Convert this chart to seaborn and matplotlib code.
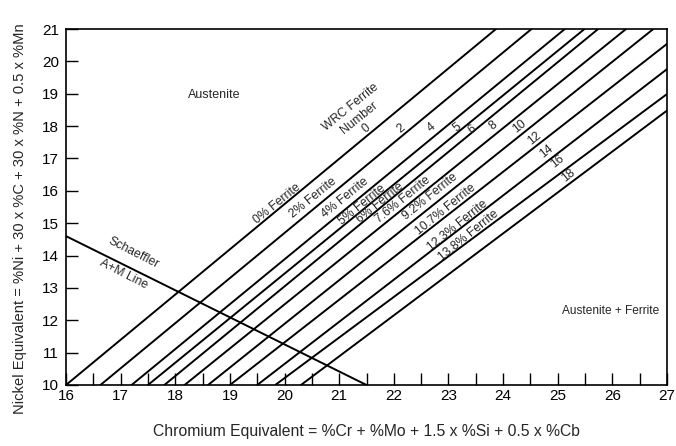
import matplotlib
matplotlib.use("Agg")
import matplotlib.pyplot as plt
import seaborn as sns
import pandas as pd
from matplotlib.ticker import MultipleLocator

# ---- data ----
ferrite_numbers = ["0", "2", "4", "5", "6", "8", "10", "12", "14", "16", "18"]
ferrite_pct = ["0%", "2%", "4%", "5%", "6%", "7.6%", "9.2%", "10.7%", "12.3%", "13.8%"]
cr_start = [16.0, 16.63, 17.2, 17.5, 17.8, 18.17, 18.6, 19.0, 19.5, 19.83, 20.3]
ni_start = [10, 10, 10, 10, 10, 10, 10, 10, 10, 10, 10]
cr_end = [23.87, 24.52, 25.13, 25.49, 25.74, 26.25, 26.75, 27.0, 27.0, 27.0, 27.0]
ni_end = [21, 21, 21, 21, 21, 21, 21, 20.54, 19.76, 18.99, 18.48]

schaeffler_cr = [16.0, 21.5]
schaeffler_ni = [14.6, 10.0]

# label positions (data coords)
pct_label_cr = [19.86, 20.52, 21.11, 21.41, 21.75, 22.17, 22.66, 22.94, 23.17, 23.36]
pct_label_ni = [15.61, 15.78, 15.78, 15.56, 15.62, 15.72, 15.81, 15.41, 14.94, 14.63]
num_label_cr = [21.49, 22.13, 22.69, 23.16, 23.44, 23.82, 24.31, 24.58, 24.80, 25.00, 25.19]
num_label_ni = [17.93, 17.93, 17.96, 17.97, 17.90, 18.03, 17.98, 17.63, 17.21, 16.90, 16.49]

x_ticks = list(range(16, 28))
y_ticks = list(range(10, 22))

# ---- build table ----
rows = []
for i, fn in enumerate(ferrite_numbers):
    rows.append({"Cr": cr_start[i], "Ni": ni_start[i], "line": "FN" + fn})
    rows.append({"Cr": cr_end[i], "Ni": ni_end[i], "line": "FN" + fn})
for c, n in zip(schaeffler_cr, schaeffler_ni):
    rows.append({"Cr": c, "Ni": n, "line": "Schaeffler"})
df = pd.DataFrame(rows)

sns.set_style("ticks")
plt.rcParams["font.family"] = ["Liberation Sans", "DejaVu Sans"]

fig = plt.figure(figsize=(6.76, 4.46), dpi=100)
ax = fig.add_axes([66 / 676, 1 - 385 / 446, (667 - 66) / 676, (385 - 29) / 446])

sns.lineplot(data=df, x="Cr", y="Ni", units="line", estimator=None,
             color="black", linewidth=1.4, sort=False, ax=ax, legend=False)

ax.set_xlim(16, 27)
ax.set_ylim(10, 21)
ax.set_xticks(x_ticks)
ax.set_yticks(y_ticks)
ax.xaxis.set_minor_locator(MultipleLocator(0.5))
ax.tick_params(axis="both", which="both", direction="in", length=8.5, width=1.0,
               color="black", labelsize=11, labelcolor="black")
ax.tick_params(axis="x", which="major", pad=3)
ax.tick_params(axis="y", which="major", pad=5)
for s in ax.spines.values():
    s.set_linewidth(1.2)
    s.set_color("black")

ax.set_xlabel("Chromium Equivalent = %Cr + %Mo + 1.5 x %Si + 0.5 x %Cb",
              fontsize=11.3, labelpad=15)
ax.set_ylabel("Nickel Equivalent = %Ni + 30 x %C + 30 x %N + 0.5 x %Mn",
              fontsize=10.6, labelpad=11)
ax.yaxis.label.set_y(0.468)

rot = 39
fs = 8.8
for lab, cx, cy in zip(ferrite_pct, pct_label_cr, pct_label_ni):
    ax.text(cx, cy, lab + " Ferrite", rotation=rot, rotation_mode="anchor",
            ha="center", va="center", fontsize=fs)
for lab, cx, cy in zip(ferrite_numbers, num_label_cr, num_label_ni):
    ax.text(cx, cy, lab, rotation=rot, rotation_mode="anchor",
            ha="center", va="center", fontsize=fs)

ax.text(21.2, 18.58, "WRC Ferrite", rotation=rot, rotation_mode="anchor",
        ha="center", va="center", fontsize=fs)
ax.text(21.37, 18.24, "Number", rotation=rot, rotation_mode="anchor",
        ha="center", va="center", fontsize=fs)
ax.text(18.71, 18.96, "Austenite", ha="center", va="center", fontsize=9)
ax.text(25.96, 12.29, "Austenite + Ferrite", ha="center", va="center", fontsize=8.6)
ax.text(17.24, 14.08, "Schaeffler", rotation=-27, rotation_mode="anchor",
        ha="center", va="center", fontsize=fs)
ax.text(17.05, 13.41, "A+M Line", rotation=-27, rotation_mode="anchor",
        ha="center", va="center", fontsize=fs)

fig.savefig("out.png", dpi=100)
